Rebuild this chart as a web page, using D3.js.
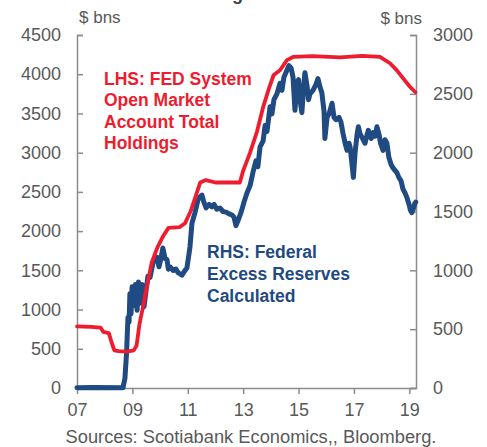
<!DOCTYPE html>
<meta charset="utf-8">
<title>Fed holdings and excess reserves</title>
<style>

body {
  margin: 0;
  background: #fff;
  font-family: Arial, "Liberation Sans", sans-serif;
}

.axis path,
.axis line {
  fill: none;
  stroke: #8c8c8c;
  stroke-width: 1.5px;
}

.axis text {
  fill: #595959;
  font: 18px Arial, "Liberation Sans", sans-serif;
}

.unit {
  fill: #595959;
  font: 17px Arial, "Liberation Sans", sans-serif;
}

.source {
  fill: #595959;
  font: 18.3px Arial, "Liberation Sans", sans-serif;
}

.note {
  font: bold 17.5px Arial, "Liberation Sans", sans-serif;
}

.line {
  fill: none;
  stroke-linejoin: round;
  stroke-linecap: round;
}

</style>
<body>
<script src="https://d3js.org/d3.v7.min.js"></script>
<script>

// LHS: FED System Open Market Account total holdings ($ bns)
var lhsDates = [2007.00, 2007.50, 2007.85, 2007.95, 2008.15, 2008.25, 2008.35, 2008.50, 2008.80, 2009.05,
  2009.15, 2009.25, 2009.38, 2009.50, 2009.70, 2009.90, 2010.10, 2010.30, 2010.70, 2010.90,
  2011.10, 2011.28, 2011.45, 2011.65, 2012.00, 2012.50, 2012.88, 2013.00, 2013.25, 2013.50,
  2013.72, 2013.95, 2014.10, 2014.33, 2014.58, 2014.80, 2015.50, 2016.50, 2017.30, 2017.94,
  2018.30, 2018.55, 2018.77, 2019.02, 2019.22];
var lhsValues = [785, 780, 770, 715, 700, 580, 480, 470, 465, 480,
  540, 800, 1030, 1250, 1600, 1790, 1930, 2040, 2050, 2100,
  2250, 2440, 2620, 2650, 2620, 2620, 2620, 2770, 3000, 3270,
  3580, 3840, 3990, 4050, 4180, 4220, 4230, 4215, 4235, 4220,
  4140, 4050, 3950, 3840, 3770];

// RHS: Federal excess reserves, calculated ($ bns)
var rhsDates = [2007.00, 2007.60, 2008.66, 2008.73, 2008.79, 2008.84, 2008.88, 2008.91, 2008.95, 2008.99,
  2009.06, 2009.11, 2009.17, 2009.22, 2009.27, 2009.35, 2009.42, 2009.49, 2009.56, 2009.64,
  2009.74, 2009.82, 2009.89, 2009.96, 2010.03, 2010.10, 2010.18, 2010.25, 2010.30, 2010.36,
  2010.47, 2010.57, 2010.65, 2010.72, 2010.79, 2010.90, 2010.97, 2011.08, 2011.15, 2011.26,
  2011.37, 2011.44, 2011.51, 2011.58, 2011.66, 2011.77, 2011.87, 2011.95, 2012.05, 2012.16,
  2012.27, 2012.38, 2012.49, 2012.60, 2012.67, 2012.74, 2012.81, 2012.92, 2013.03, 2013.14,
  2013.25, 2013.35, 2013.46, 2013.53, 2013.61, 2013.72, 2013.79, 2013.86, 2013.97, 2014.04,
  2014.11, 2014.22, 2014.33, 2014.40, 2014.47, 2014.58, 2014.65, 2014.73, 2014.80, 2014.87,
  2014.94, 2015.00, 2015.05, 2015.12, 2015.18, 2015.23, 2015.31, 2015.36, 2015.41, 2015.52,
  2015.63, 2015.70, 2015.77, 2015.84, 2015.92, 2015.95, 2016.03, 2016.10, 2016.21, 2016.28,
  2016.35, 2016.46, 2016.53, 2016.60, 2016.68, 2016.75, 2016.82, 2016.86, 2016.93, 2016.98,
  2017.04, 2017.11, 2017.16, 2017.22, 2017.29, 2017.40, 2017.47, 2017.52, 2017.62, 2017.69,
  2017.76, 2017.83, 2017.91, 2017.96, 2018.05, 2018.12, 2018.19, 2018.26, 2018.34, 2018.41,
  2018.48, 2018.55, 2018.62, 2018.70, 2018.77, 2018.84, 2018.91, 2018.99, 2019.04, 2019.09,
  2019.14, 2019.20, 2019.23];
var rhsValues = [2, 5, 3, 80, 300, 600, 560, 800, 630, 860,
  700, 880, 660, 900, 720, 880, 690, 820, 950, 940,
  1060, 1100, 1110, 1030, 1100, 1190, 1100, 1090, 1010, 1030,
  1000, 1010, 980, 970, 960, 1000, 1020, 1200, 1400, 1490,
  1600, 1625, 1640, 1580, 1530, 1560, 1540, 1560, 1520, 1530,
  1500, 1495, 1480, 1470, 1450, 1380, 1420, 1490, 1580, 1660,
  1720, 1830, 1930, 1880, 2050, 2100, 2230, 2180, 2390, 2330,
  2450, 2500, 2590, 2530, 2640, 2700, 2740, 2720, 2640, 2360,
  2600, 2620, 2450, 2340, 2550, 2680, 2560, 2450, 2500, 2530,
  2580, 2630, 2560, 2510, 2350, 2120, 2300, 2330, 2420, 2300,
  2280, 2300, 2260, 2170, 2080, 2020, 2080, 2050, 1900, 1790,
  2000, 2150, 2220, 2160, 2130, 2080, 2150, 2190, 2120, 2170,
  2140, 2220, 2150, 2080, 2020, 2110, 2080, 1960, 1900, 1870,
  1850, 1830, 1790, 1760, 1690, 1660, 1620, 1560, 1510, 1490,
  1520, 1570, 1580];

var xTicks = [2007, 2009, 2011, 2013, 2015, 2017, 2019];
var lhsTicks = [0, 500, 1000, 1500, 2000, 2500, 3000, 3500, 4000, 4500];
var rhsTicks = [0, 500, 1000, 1500, 2000, 2500, 3000];

var lhsNote = ["LHS: FED System", "Open Market", "Account Total", "Holdings"];
var rhsNote = ["RHS: Federal", "Excess Reserves", "Calculated"];

var margin = {top: 35, right: 71, bottom: 59, left: 77},
    width = 487 - margin.left - margin.right,
    height = 447 - margin.top - margin.bottom;

var red = "#ee1c2e",
    blue = "#1f4a82";

var x = d3.scaleLinear()
    .domain([2007, 2019.24])
    .range([0, width]);

var yL = d3.scaleLinear()
    .domain([0, 4500])
    .range([height, 0]);

var yR = d3.scaleLinear()
    .domain([0, 3000])
    .range([height, 0]);

var svg = d3.select("body").append("svg")
    .attr("width", 487)
    .attr("height", 447);

// title is cut off by the top edge of the picture
svg.append("text")
    .attr("x", 243)
    .attr("y", 0)
    .style("text-anchor", "end")
    .style("font", "bold 18px Arial, sans-serif")
    .style("fill", "#404040")
    .text("Fed Balance Sheet Shrinking");

var g = svg.append("g")
    .attr("transform", "translate(" + margin.left + "," + margin.top + ")");

g.append("g")
    .attr("class", "x axis")
    .attr("transform", "translate(0," + height + ")")
    .call(d3.axisBottom(x)
      .tickValues(xTicks)
      .tickSize(6)
      .tickSizeOuter(0)
      .tickPadding(9)
      .tickFormat(function(d) { return d3.format("02d")(d % 100); }));

g.append("g")
    .attr("class", "y axis")
    .call(d3.axisLeft(yL)
      .tickValues(lhsTicks)
      .tickSize(-6)
      .tickPadding(16)
      .tickFormat(d3.format("d")));

g.append("g")
    .attr("class", "y axis")
    .attr("transform", "translate(" + width + ",0)")
    .call(d3.axisRight(yR)
      .tickValues(rhsTicks)
      .tickSize(-6)
      .tickPadding(17)
      .tickFormat(d3.format("d")));

g.append("text")
    .attr("class", "unit")
    .attr("x", 2)
    .attr("y", -12)
    .text("$ bns");

g.append("text")
    .attr("class", "unit")
    .attr("x", width + 6)
    .attr("y", -11)
    .style("text-anchor", "end")
    .text("$ bns");

var lhsData = lhsDates.map(function(d, i) { return [d, lhsValues[i]]; });
var rhsData = rhsDates.map(function(d, i) { return [d, rhsValues[i]]; });

g.append("path")
    .datum(rhsData)
    .attr("class", "line")
    .attr("stroke", blue)
    .attr("stroke-width", 5)
    .attr("d", d3.line()
      .x(function(d) { return x(d[0]); })
      .y(function(d) { return yR(d[1]); }));

g.append("path")
    .datum(lhsData)
    .attr("class", "line")
    .attr("stroke", red)
    .attr("stroke-width", 3.8)
    .attr("d", d3.line()
      .x(function(d) { return x(d[0]); })
      .y(function(d) { return yL(d[1]); }));

svg.append("g")
    .selectAll("text")
    .data(lhsNote)
  .enter().append("text")
    .attr("class", "note")
    .attr("x", 104)
    .attr("y", function(d, i) { return 85 + i * 21.3; })
    .style("fill", red)
    .text(function(d) { return d; });

svg.append("g")
    .selectAll("text")
    .data(rhsNote)
  .enter().append("text")
    .attr("class", "note")
    .attr("x", 207)
    .attr("y", function(d, i) { return 258 + i * 22; })
    .style("fill", blue)
    .text(function(d) { return d; });

svg.append("text")
    .attr("class", "source")
    .attr("x", 251)
    .attr("y", 443)
    .style("text-anchor", "middle")
    .text("Sources: Scotiabank Economics,, Bloomberg.");

</script>
</body>
